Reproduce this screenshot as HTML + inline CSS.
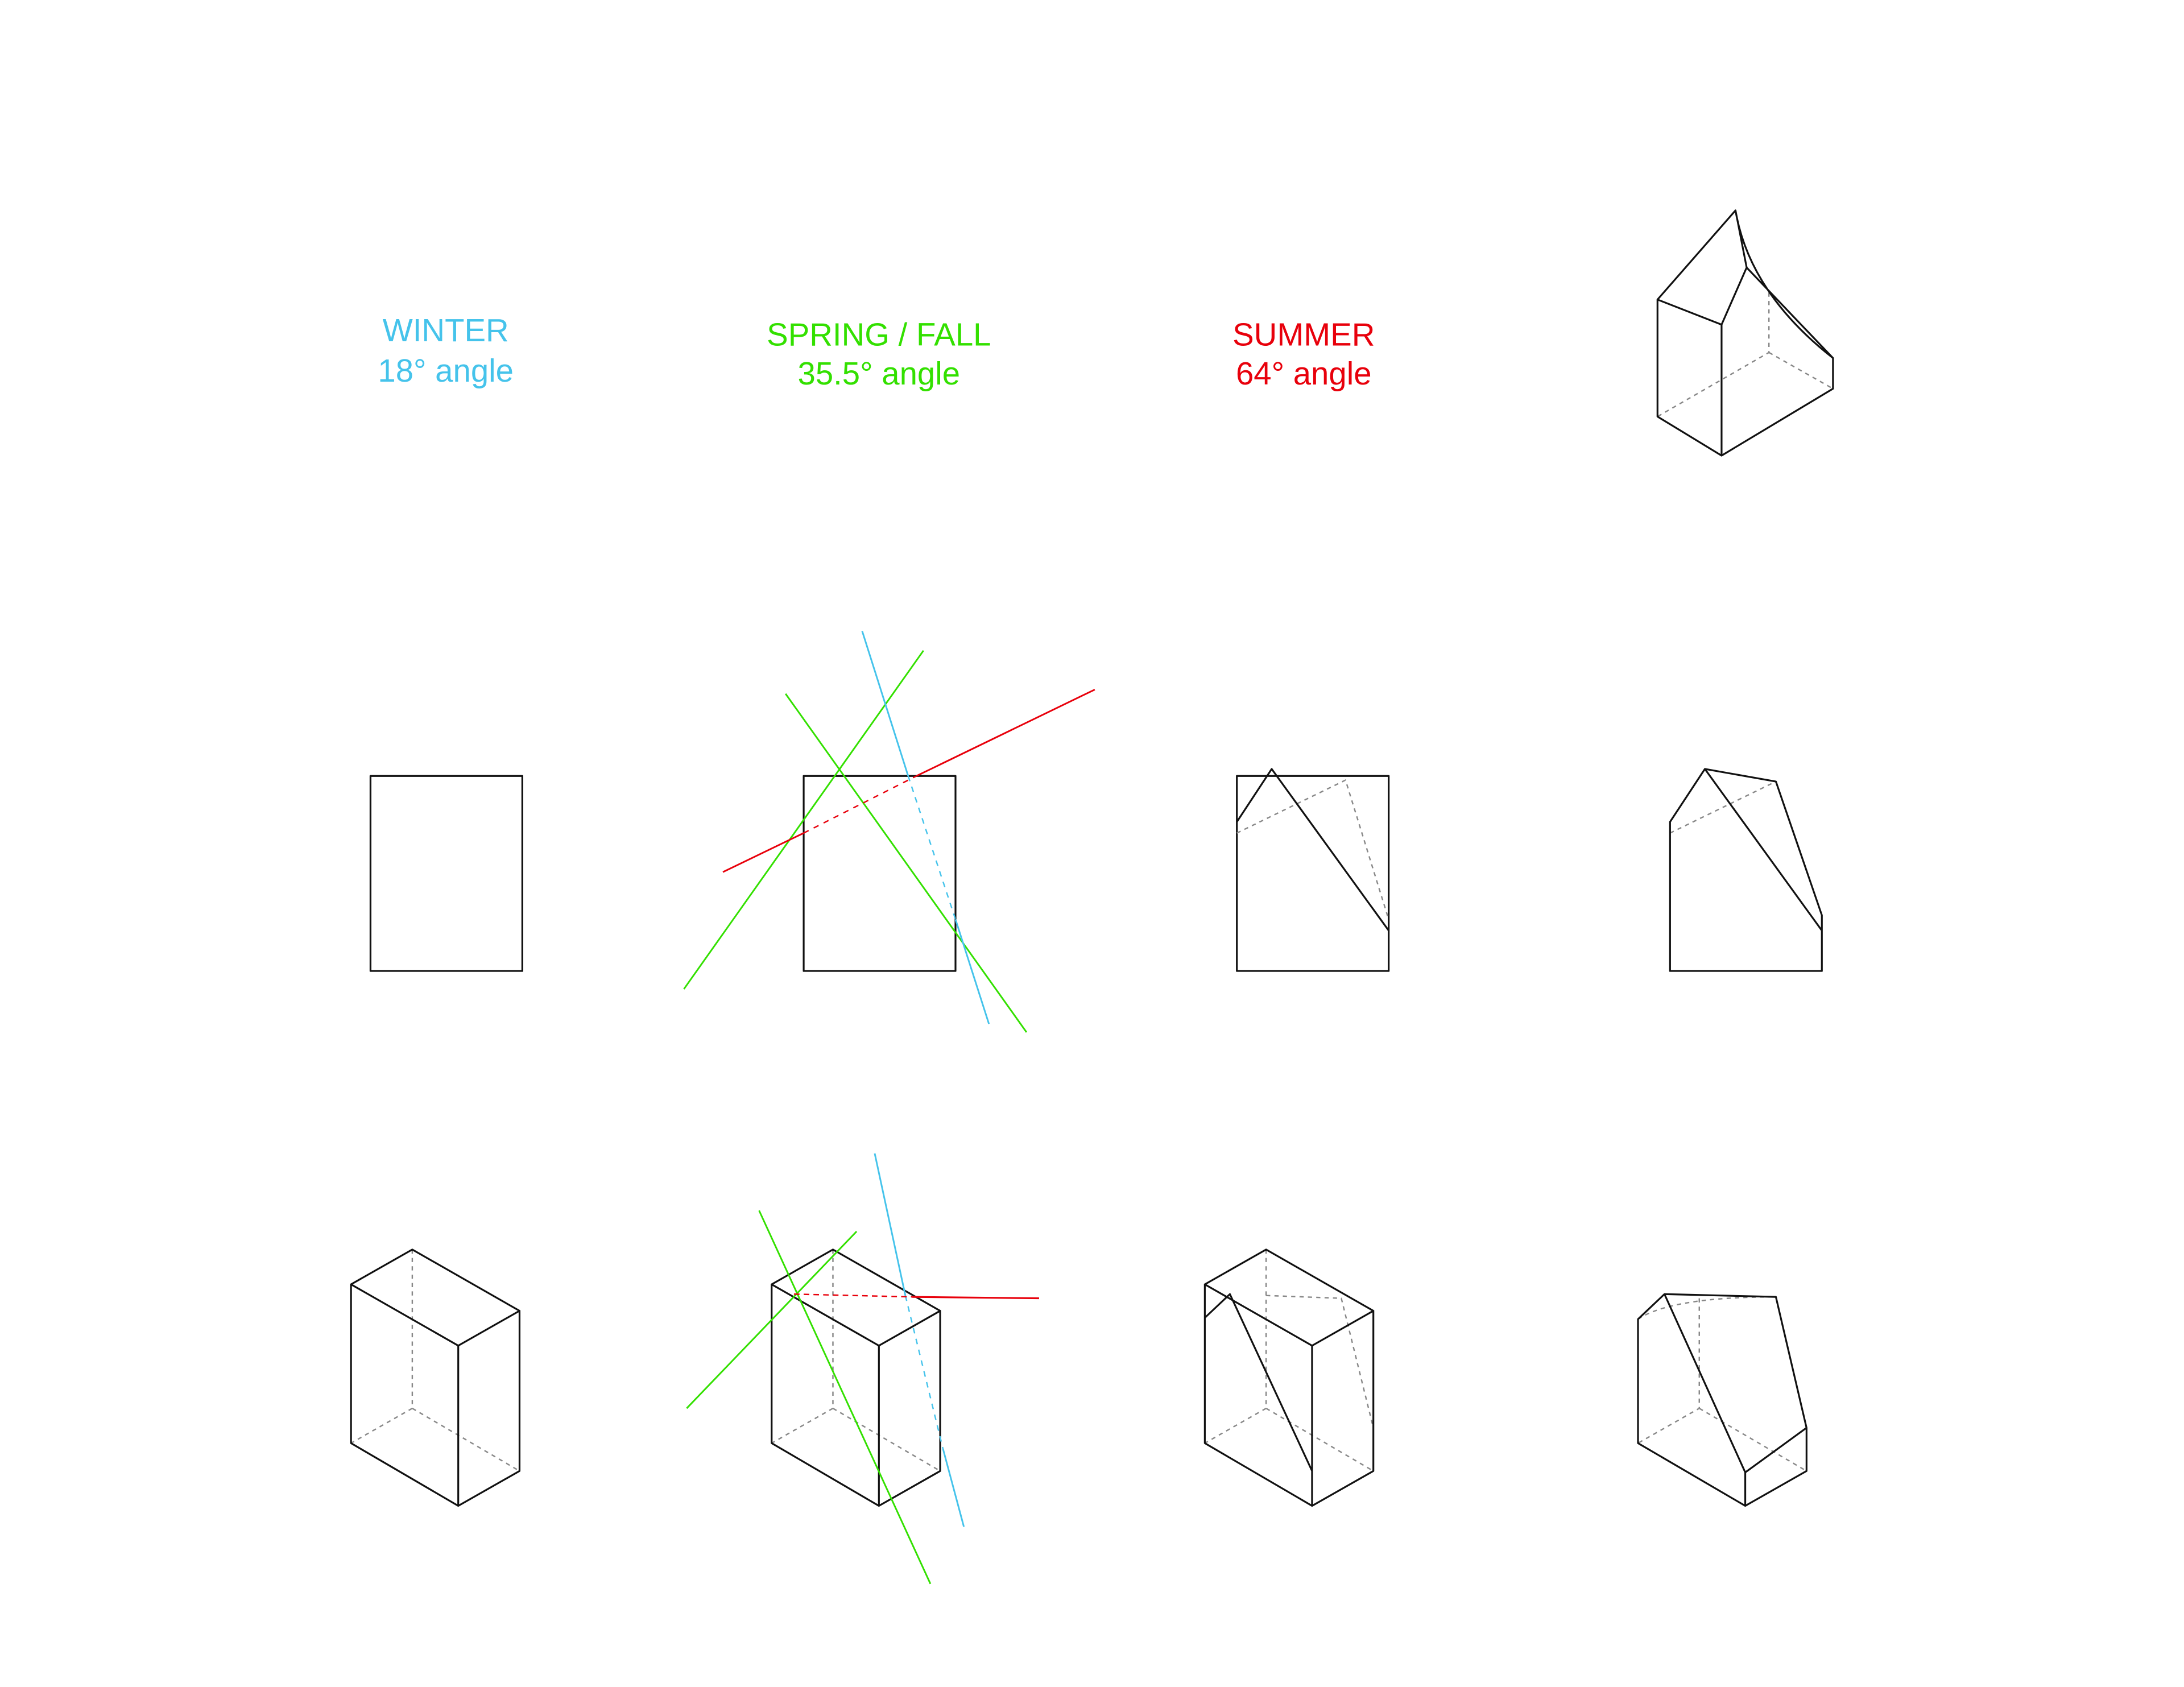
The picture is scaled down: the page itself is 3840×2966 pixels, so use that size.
<!DOCTYPE html>
<html><head><meta charset="utf-8"><style>
html,body{margin:0;padding:0;background:#fff;}
svg{display:block;}
text{font-family:"Liberation Sans",sans-serif;font-size:23px;text-anchor:middle;}
.k{stroke:#111;stroke-width:1.3;fill:none;stroke-linejoin:round;}
.d{stroke:#888;stroke-width:1;fill:none;stroke-dasharray:3,3;}
</style></head><body>
<svg width="3840" height="2966" viewBox="0 0 1568 1211">
<g>
<text x="320" y="245" fill="#45c3eb">WINTER</text>
<text x="320" y="274" fill="#45c3eb">18° angle</text>
<text x="631" y="248" fill="#33e000">SPRING / FALL</text>
<text x="631" y="276" fill="#33e000">35.5° angle</text>
<text x="936" y="248" fill="#e8000b">SUMMER</text>
<text x="936" y="276" fill="#e8000b">64° angle</text>
</g>
<g>
<path class="d" d="M1270,210 L1270,253 L1190,299 M1270,253 L1316,279"/>
<path class="k" d="M1190,215 L1246,151 L1254,192 L1236,233 L1190,215 L1190,299 L1236,327 L1316,279 L1316,257 L1254,192 M1236,233 L1236,327 M1246,151 Q1256,210 1316,257"/>
</g>
<g><rect class="k" x="266" y="557" width="109" height="140"/></g>
<g>
<rect class="k" x="577" y="557" width="109" height="140"/>
<line x1="663" y1="467" x2="491" y2="710" stroke="#33e000" stroke-width="1.2"/>
<line x1="564" y1="498" x2="737" y2="741" stroke="#33e000" stroke-width="1.2"/>
<path d="M619,453 L652,557 M686,660 L710,735" stroke="#45c3eb" stroke-width="1.2" fill="none"/>
<path d="M652,557 L686,660" stroke="#45c3eb" stroke-width="1" stroke-dasharray="4,4" fill="none"/>
<path d="M519,626 L577,598 M658,557 L786,495" stroke="#e8000b" stroke-width="1.2" fill="none"/>
<path d="M577,598 L658,557" stroke="#e8000b" stroke-width="1" stroke-dasharray="4,4" fill="none"/>
</g>
<g>
<rect class="k" x="888" y="557" width="109" height="140"/>
<path class="d" d="M888,598 L966,560 L997,660"/>
<path class="k" d="M888,590 L913,552 L997,668"/>
</g>
<g>
<path class="d" d="M1199,598 L1275,561"/>
<path class="k" d="M1199,697 L1199,590 L1224,552 L1275,561 L1308,657 L1308,697 Z M1224,552 L1308,668"/>
</g>
<g>
<path class="d" d="M296,897 L296,1011 L252,1036 M296,1011 L373,1056"/>
<path class="k" d="M296,897 L373,941 L329,966 L252,922 Z M252,922 L252,1036 L329,1081 L373,1056 L373,941 M329,966 L329,1081"/>
</g>
<g>
<path class="d" d="M598,897 L598,1011 L554,1036 M598,1011 L675,1056"/>
<path class="k" d="M598,897 L675,941 L631,966 L554,922 Z M554,922 L554,1036 L631,1081 L675,1056 L675,941 M631,966 L631,1081"/>
<line x1="545" y1="869" x2="668" y2="1137" stroke="#33e000" stroke-width="1.2"/>
<line x1="615" y1="884" x2="493" y2="1011" stroke="#33e000" stroke-width="1.2"/>
<path d="M628,828 L650,930 M677,1040 L692,1096" stroke="#45c3eb" stroke-width="1.2" fill="none"/>
<path d="M650,930 L677,1040" stroke="#45c3eb" stroke-width="1" stroke-dasharray="4,4" fill="none"/>
<path d="M570,929 L655,931" stroke="#e8000b" stroke-width="1" stroke-dasharray="4,3" fill="none"/>
<path d="M655,931 L746,932" stroke="#e8000b" stroke-width="1.3" fill="none"/>
</g>
<g>
<path class="d" d="M909,897 L909,1011 L865,1036 M909,1011 L986,1056 M909,930 L963,932 L986,1025"/>
<path class="k" d="M909,897 L986,941 L942,966 L865,922 Z M865,922 L865,1036 L942,1081 L986,1056 L986,941 M942,966 L942,1081 M865,946 L883,929 L942,1056"/>
</g>
<g>
<path class="d" d="M1220,932 L1220,1011 L1176,1036 M1220,1011 L1297,1056 M1176,947 Q1200,931 1275,931"/>
<path class="k" d="M1176,947 L1195,929 L1275,931 L1297,1025 L1297,1056 L1253,1081 L1176,1036 Z M1195,929 L1253,1057 L1297,1025 M1253,1057 L1253,1081"/>
</g>
</svg>
</body></html>
